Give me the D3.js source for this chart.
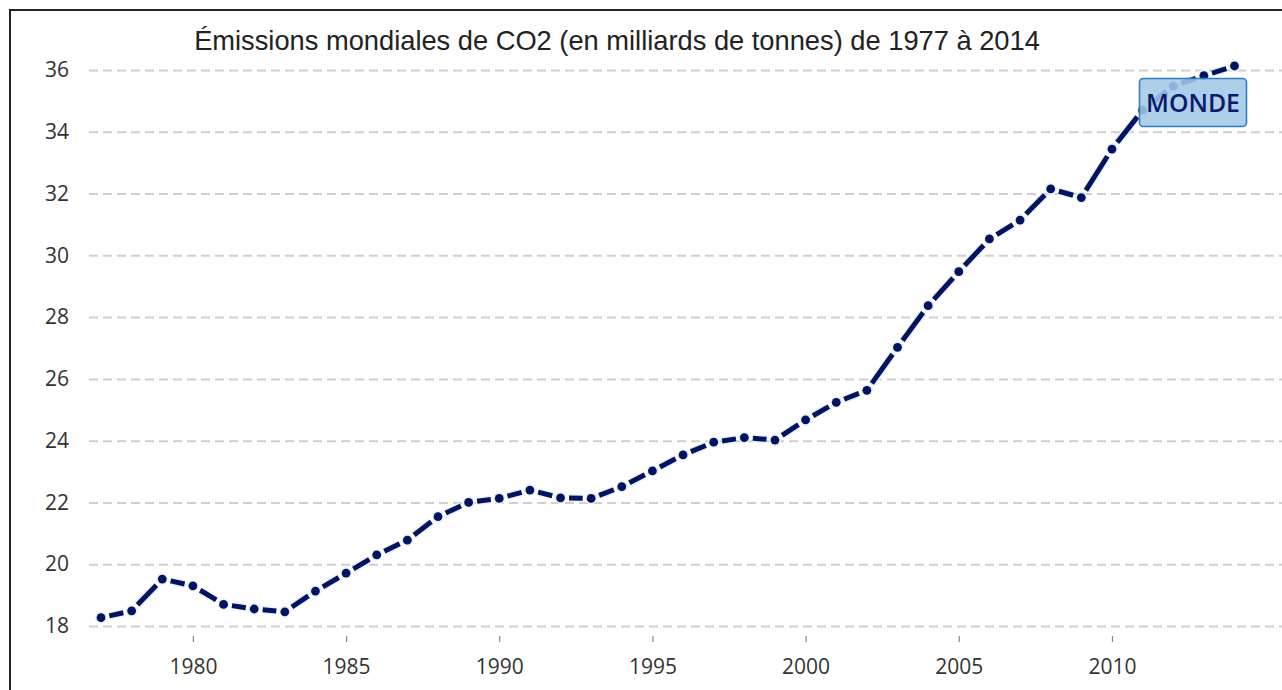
<!DOCTYPE html>
<html>
<head>
<meta charset="utf-8">
<script src="https://cdn.jsdelivr.net/npm/d3@7"></script>
<style>
  html, body { margin: 0; padding: 0; background: #fff; }
  svg { display: block; }
</style>
</head>
<body>
<svg id="chart" width="1282" height="690"></svg>
<script>
// ---- Data ----
const years = [1977,1978,1979,1980,1981,1982,1983,1984,1985,1986,1987,1988,1989,
               1990,1991,1992,1993,1994,1995,1996,1997,1998,1999,2000,2001,2002,
               2003,2004,2005,2006,2007,2008,2009,2010,2011,2012,2013,2014];
const emissions = [18.27,18.49,19.52,19.30,18.70,18.55,18.46,19.13,19.71,20.30,20.78,21.54,22.00,
                   22.13,22.40,22.15,22.13,22.51,23.02,23.54,23.95,24.10,24.02,24.67,25.24,25.63,
                   27.02,28.37,29.47,30.53,31.14,32.15,31.87,33.44,34.70,35.48,35.82,36.13];
const yTicks = [18,20,22,24,26,28,30,32,34,36];
const xTicks = [1980,1985,1990,1995,2000,2005,2010];
const titleText = "Émissions mondiales de CO2 (en milliards de tonnes) de 1977 à 2014";
const seriesLabel = "MONDE";

// ---- Setup ----
const svg = d3.select("#chart");
const W = 1282, H = 690;
const lineColor = "#02145e";

const x = d3.scaleLinear().domain([1977, 2014]).range([101, 1234.5]);
const y = d3.scaleLinear().domain([18, 36]).range([626, 70]);

// frame (top + left)
svg.append("path")
  .attr("d", `M10,${H} L10,10 L${W},10`)
  .attr("fill", "none").attr("stroke", "#222").attr("stroke-width", 2);

// Y axis with gridlines
const gridLeft = 89;
const yAxis = d3.axisLeft(y).tickValues(yTicks).tickSize(-(W - gridLeft)).tickPadding(20).tickFormat(d3.format("d"));
const gy = svg.append("g").attr("transform", `translate(${gridLeft},0)`).call(yAxis);
gy.select(".domain").remove();
gy.selectAll(".tick line").attr("stroke", "#cfcfcf").attr("stroke-width", 2).attr("stroke-dasharray", "9,5");
gy.selectAll(".tick text").attr("fill", "#333").attr("font-family", "'Open Sans', sans-serif").attr("font-size", 21);

// X axis
const xAxis = d3.axisBottom(x).tickValues(xTicks).tickSize(6).tickPadding(17).tickFormat(d3.format("d"));
const gx = svg.append("g").attr("transform", "translate(0,636)").call(xAxis);
gx.select(".domain").remove();
gx.selectAll(".tick line").attr("stroke", "#888").attr("stroke-width", 1.2);
gx.selectAll(".tick text").attr("fill", "#333").attr("font-family", "'Open Sans', sans-serif").attr("font-size", 21);

// Title
const title = svg.append("text")
  .attr("x", 617).attr("y", 50)
  .attr("text-anchor", "middle")
  .attr("fill", "#222")
  .attr("font-family", "'Liberation Sans', Arial, sans-serif")
  .attr("font-size", 24)
  .text(titleText);
const tw = title.node().getComputedTextLength();
title.attr("font-size", 24 * 846 / tw);

// Series: dot-dash segments
const pts = years.map((yr, i) => [x(yr), y(emissions[i])]);
const gap = 8.5;
const segs = [];
for (let i = 0; i < pts.length - 1; i++) {
  const [x1, y1] = pts[i], [x2, y2] = pts[i + 1];
  const L = Math.hypot(x2 - x1, y2 - y1);
  const ux = (x2 - x1) / L, uy = (y2 - y1) / L;
  segs.push({x1: x1 + ux * gap, y1: y1 + uy * gap, x2: x2 - ux * gap, y2: y2 - uy * gap});
}
const gl = svg.append("g");
// light halo
gl.selectAll("line.halo").data(segs).join("line").attr("class", "halo")
  .attr("x1", d => d.x1).attr("y1", d => d.y1).attr("x2", d => d.x2).attr("y2", d => d.y2)
  .attr("stroke", "#eaf2fb").attr("stroke-width", 8);
gl.selectAll("circle.halo").data(pts).join("circle").attr("class", "halo")
  .attr("cx", d => d[0]).attr("cy", d => d[1]).attr("r", 6).attr("fill", "#eaf2fb");
gl.selectAll("line.seg").data(segs).join("line").attr("class", "seg")
  .attr("x1", d => d.x1).attr("y1", d => d.y1).attr("x2", d => d.x2).attr("y2", d => d.y2)
  .attr("stroke", lineColor).attr("stroke-width", 5);
gl.selectAll("circle.pt").data(pts).join("circle").attr("class", "pt")
  .attr("cx", d => d[0]).attr("cy", d => d[1]).attr("r", 4.4).attr("fill", lineColor);

// Label box
const lb = svg.append("g");
lb.append("rect")
  .attr("x", 1139.5).attr("y", 78.5).attr("width", 107).attr("height", 48).attr("rx", 4)
  .attr("fill", "#a3c8e7").attr("fill-opacity", 0.88)
  .attr("stroke", "#2f7fc0").attr("stroke-width", 1.6);
const lt = lb.append("text")
  .attr("x", 1193).attr("y", 112)
  .attr("text-anchor", "middle")
  .attr("fill", "#0b1a6a")
  .attr("font-family", "'Open Sans', sans-serif")
  .attr("font-weight", 600)
  .attr("font-size", 25)
  .text(seriesLabel);
const lw = lt.node().getComputedTextLength();
lt.attr("font-size", 25 * 94 / lw);
</script>
</body>
</html>
